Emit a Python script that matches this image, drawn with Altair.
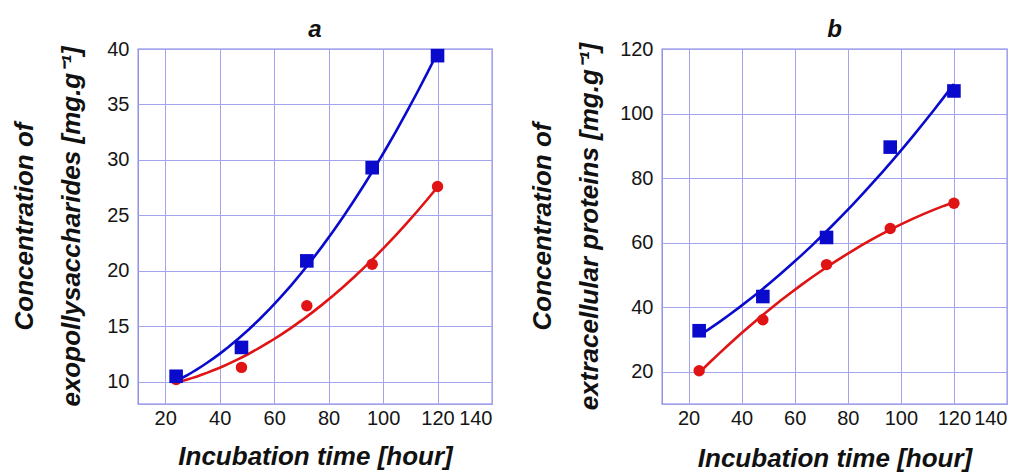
import altair as alt
import pandas as pd

hours = [24, 48, 72, 96, 120]
eps_blue = [10.5, 13.1, 20.9, 29.3, 39.4]
eps_red = [10.2, 11.3, 16.85, 20.6, 27.6]
prot_blue = [32.7, 43.3, 61.6, 89.6, 107.0]
prot_red = [20.3, 36.1, 53.2, 64.4, 72.2]

x_ticks = [20, 40, 60, 80, 100, 120, 140]
eps_ticks = [10, 15, 20, 25, 30, 35, 40]
prot_ticks = [20, 40, 60, 80, 100, 120]

BLUE = "#0a0acc"
RED = "#e01414"
FONT = "Liberation Sans"


def make_df(red, blue):
    rows = []
    for h, v in zip(hours, red):
        rows.append({"hour": h, "value": v, "series": "red"})
    for h, v in zip(hours, blue):
        rows.append({"hour": h, "value": v, "series": "blue"})
    return pd.DataFrame(rows)


def panel(df, ydom, yticks, ytitle, title, width, ytitleX, xtitleY):
    xenc = alt.X(
        "hour:Q",
        scale=alt.Scale(domain=[10, 140], nice=False, zero=False),
        axis=alt.Axis(
            values=x_ticks,
            title="Incubation time [hour]",
            titleY=xtitleY,
            titleBaseline="middle",
            labelPadding=4,
        ),
    )
    yenc = alt.Y(
        "value:Q",
        scale=alt.Scale(domain=ydom, nice=False, zero=False),
        axis=alt.Axis(
            values=yticks,
            title=ytitle,
            titleX=ytitleX,
            titleY=177,
            titleAngle=-90,
            titleAlign="center",
            titleBaseline="middle",
            titleLineHeight=47,
            labelPadding=9,
        ),
    )
    color = alt.Color(
        "series:N",
        scale=alt.Scale(domain=["red", "blue"], range=[RED, BLUE]),
        legend=None,
    )
    shape = alt.Shape(
        "series:N",
        scale=alt.Scale(domain=["red", "blue"], range=["circle", "square"]),
        legend=None,
    )
    base = alt.Chart(df)
    lines = (
        base.transform_regression("hour", "value", method="poly", order=2, groupby=["series"])
        .mark_line(strokeWidth=2.6)
        .encode(x=xenc, y=yenc, color=color)
    )
    pts = base.mark_point(filled=True, opacity=1).encode(
        x=xenc, y=yenc, color=color, shape=shape,
        size=alt.condition(alt.datum.series == "blue", alt.value(185), alt.value(130)),
    )
    return alt.layer(lines, pts).properties(
        width=width,
        height=355,
        title=alt.TitleParams(title, fontSize=24, fontStyle="italic", fontWeight="bold",
                              font=FONT, color="#111", offset=6, dy=9),
    )


pa = panel(make_df(eps_red, eps_blue), [8, 40], eps_ticks,
           ["Concentration of", "exopollysaccharides [mg.g\u207b\u00b9]"],
           "a", 354, -114, 52)
pb = panel(make_df(prot_red, prot_blue), [10, 120], prot_ticks,
           ["Concentration of", "extracellular proteins [mg.g\u207b\u00b9]"],
           "b", 345, -120, 54)

chart = (
    alt.hconcat(pa, pb, spacing=35, background="white",
                padding={"left": 2, "right": 2, "top": 9, "bottom": 0})
    .configure_axis(
        labelFont=FONT,
        labelFontSize=20,
        labelColor="#151515",
        titleFont=FONT,
        titleFontSize=26,
        titleFontStyle="italic",
        titleFontWeight="bold",
        titleColor="#111",
        gridColor="#a4a4ee",
        gridWidth=1,
        domain=False,
        ticks=False,
    )
    .configure_view(stroke="#8080e6", strokeWidth=1.3)
)

chart.save("out.html", embed_options={"renderer": "svg", "actions": False})
